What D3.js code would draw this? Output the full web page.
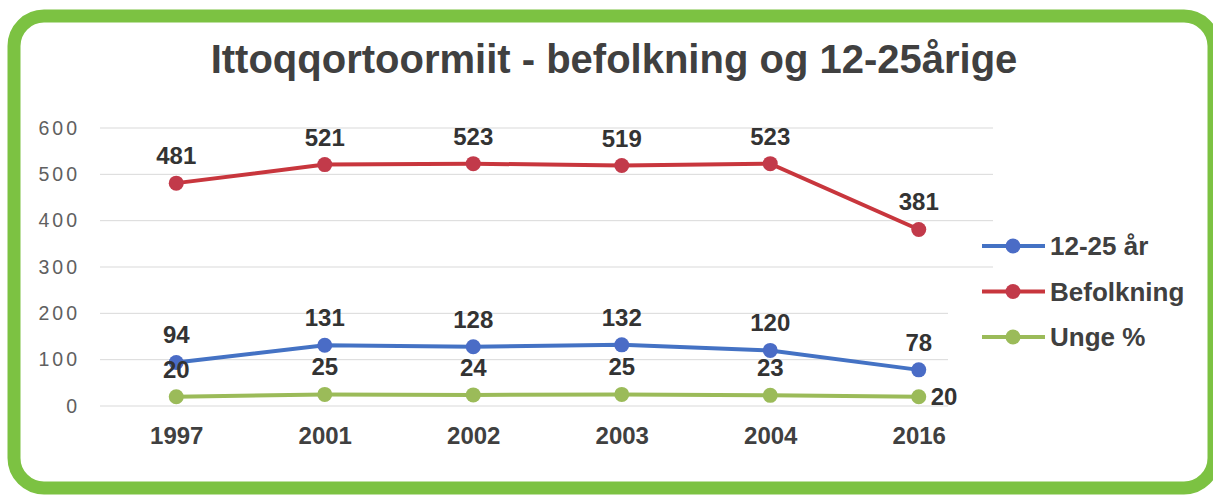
<!DOCTYPE html>
<html>
<head>
<meta charset="utf-8">
<script src="https://cdn.jsdelivr.net/npm/d3@7"></script>
<style>
  body { margin: 0; background: #fff; }
  text { font-family: "Liberation Sans", Arial, sans-serif; }
</style>
</head>
<body>
<div id="chart"></div>
<script>
// data
const years = ["1997", "2001", "2002", "2003", "2004", "2016"];
const unge1225 = [94, 131, 128, 132, 120, 78];
const befolkning = [481, 521, 523, 519, 523, 381];
const ungePct = [20, 25, 24, 25, 23, 20];
const yTicks = [0, 100, 200, 300, 400, 500, 600];
const seriesNames = ["12-25 år", "Befolkning", "Unge %"];

const W = 1213, H = 495;
const svg = d3.select("#chart").append("svg")
  .attr("width", W).attr("height", H);

// green rounded frame
svg.append("rect")
  .attr("x", 14).attr("y", 16)
  .attr("width", 1200).attr("height", 472)
  .attr("rx", 30).attr("ry", 30)
  .attr("fill", "#fff")
  .attr("stroke", "#7cc242")
  .attr("stroke-width", 13);

// title
svg.append("text")
  .attr("x", 614).attr("y", 73)
  .attr("text-anchor", "middle")
  .attr("font-size", 40).attr("font-weight", "bold")
  .attr("fill", "#404040")
  .text("Ittoqqortoormiit - befolkning og 12-25årige");

const x = d3.scalePoint().domain(years).range([102, 993]).padding(0.5);
const y = d3.scaleLinear().domain([0, 600]).range([406, 128]);

// gridlines
svg.append("g").selectAll("line")
  .data(yTicks)
  .join("line")
  .attr("x1", 100).attr("x2", 993)
  .attr("y1", d => y(d)).attr("y2", d => y(d))
  .attr("stroke", "#d9d9d9").attr("stroke-width", 1);

// y axis labels
const yAxis = svg.append("g")
  .attr("transform", "translate(80,0)")
  .call(d3.axisLeft(y).tickValues(yTicks).tickSize(0).tickPadding(0));
yAxis.select(".domain").remove();
yAxis.selectAll("text")
  .attr("font-family", "'DejaVu Sans', sans-serif")
  .attr("font-size", 19.5)
  .attr("letter-spacing", 3)
  .attr("fill", "#606060");

// x axis labels
const xAxis = svg.append("g")
  .attr("transform", "translate(0,426)")
  .call(d3.axisBottom(x).tickSize(0).tickPadding(0));
xAxis.select(".domain").remove();
xAxis.selectAll("text")
  .attr("font-family", "'Liberation Sans', Arial, sans-serif")
  .attr("font-size", 24).attr("font-weight", "bold")
  .attr("fill", "#404040")
  .attr("dy", "0.75em");

// white legend backdrop (hides lower gridline ends)
svg.append("rect")
  .attr("x", 948).attr("y", 300)
  .attr("width", 255).attr("height", 120)
  .attr("fill", "#fff");

const series = [
  { name: seriesNames[0], values: unge1225, color: "#4472c4", marker: "#4a6cc6" },
  { name: seriesNames[1], values: befolkning, color: "#c8363d", marker: "#c23a4a" },
  { name: seriesNames[2], values: ungePct, color: "#9bbb59", marker: "#9bbb59" }
];

const line = d3.line()
  .x((d, i) => x(years[i]))
  .y(d => y(d));

series.forEach((s, si) => {
  svg.append("path")
    .datum(s.values)
    .attr("fill", "none")
    .attr("stroke", s.color)
    .attr("stroke-width", 4)
    .attr("d", line);

  svg.append("g").selectAll("circle")
    .data(s.values)
    .join("circle")
    .attr("cx", (d, i) => x(years[i]))
    .attr("cy", d => y(d))
    .attr("r", 7.5)
    .attr("fill", s.marker);

  svg.append("g").selectAll("text")
    .data(s.values)
    .join("text")
    .attr("x", (d, i) => (si === 2 && i === years.length - 1) ? x(years[i]) + 12 : x(years[i]))
    .attr("y", (d, i) => (si === 2 && i === years.length - 1) ? y(d) + 8 : y(d) - 19)
    .attr("text-anchor", (d, i) => (si === 2 && i === years.length - 1) ? "start" : "middle")
    .attr("font-size", 24).attr("font-weight", "bold")
    .attr("fill", "#333")
    .text(d => d);
});

// legend
const legend = svg.append("g");
series.forEach((s, i) => {
  const ly = 246 + i * 45.5;
  legend.append("line")
    .attr("x1", 982).attr("x2", 1045)
    .attr("y1", ly).attr("y2", ly)
    .attr("stroke", s.color).attr("stroke-width", 4);
  legend.append("circle")
    .attr("cx", 1013).attr("cy", ly).attr("r", 7.5)
    .attr("fill", s.marker);
  legend.append("text")
    .attr("x", 1050).attr("y", ly + 9)
    .attr("font-size", 26).attr("font-weight", "bold")
    .attr("fill", "#404040")
    .text(s.name);
});
</script>
</body>
</html>
